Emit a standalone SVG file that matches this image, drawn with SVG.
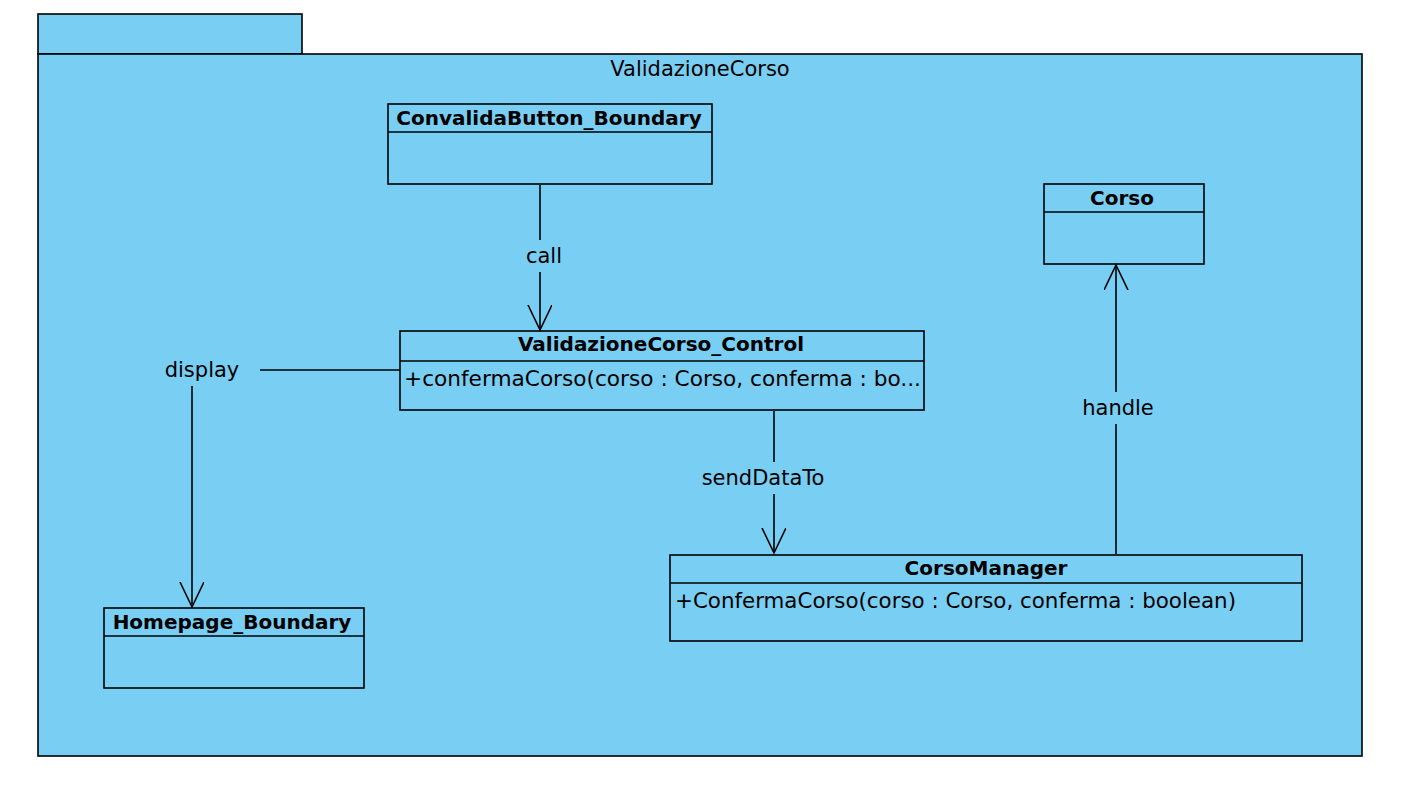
<svg xmlns="http://www.w3.org/2000/svg" width="1402" height="792" viewBox="0 0 1402 792">
<defs>
<marker id="open" viewBox="0 0 30 30" refX="25" refY="12" markerWidth="30" markerHeight="30" markerUnits="userSpaceOnUse" orient="auto">
<path d="M0,0 L25,12 L0,24" fill="none" stroke="#000" stroke-width="1.6"/>
</marker>
<style>
.box{fill:#79CEF3;stroke:#000;stroke-width:1.6}
.div{stroke:#000;stroke-width:1.6}
.name{font-family:"DejaVu Sans","Liberation Sans",sans-serif;font-weight:bold;font-size:20px;text-anchor:middle;fill:#000}
.op{font-family:"DejaVu Sans","Liberation Sans",sans-serif;font-size:21px;fill:#000}
.lbl{font-family:"DejaVu Sans","Liberation Sans",sans-serif;font-size:21px;text-anchor:middle;fill:#000}
.edge{fill:none;stroke:#000;stroke-width:1.6}
</style>
</defs>
<rect width="1402" height="792" fill="#fff"/>
<g id="package">
<rect class="box" x="38" y="14" width="264" height="40"/>
<rect class="box" x="38" y="54" width="1324" height="702"/>
<text class="lbl" x="700" y="76">ValidazioneCorso</text>
</g>
<g id="ConvalidaButton_Boundary">
<rect class="box" x="388" y="104" width="324" height="80"/>
<line class="div" x1="388" y1="132" x2="712" y2="132"/>
<text class="name" x="549" y="125">ConvalidaButton_Boundary</text>
</g>
<g id="Corso">
<rect class="box" x="1044" y="184" width="160" height="80"/>
<line class="div" x1="1044" y1="212" x2="1204" y2="212"/>
<text class="name" x="1122" y="205">Corso</text>
</g>
<g id="ValidazioneCorso_Control">
<rect class="box" x="400" y="331" width="524" height="79"/>
<line class="div" x1="400" y1="361" x2="924" y2="361"/>
<text class="name" x="661" y="351">ValidazioneCorso_Control</text>
<text class="op" x="404" y="386" textLength="517" lengthAdjust="spacingAndGlyphs">+confermaCorso(corso : Corso, conferma : bo...</text>
</g>
<g id="CorsoManager">
<rect class="box" x="670" y="555" width="632" height="86"/>
<line class="div" x1="670" y1="583" x2="1302" y2="583"/>
<text class="name" x="986" y="575">CorsoManager</text>
<text class="op" x="675" y="608" textLength="561" lengthAdjust="spacingAndGlyphs">+ConfermaCorso(corso : Corso, conferma : boolean)</text>
</g>
<g id="Homepage_Boundary">
<rect class="box" x="104" y="608" width="260" height="80"/>
<line class="div" x1="104" y1="636" x2="364" y2="636"/>
<text class="name" x="232" y="629">Homepage_Boundary</text>
</g>
<g id="connectors">
<path class="edge" d="M540,185 L540,240"/>
<path class="edge" d="M540,272 L540,330" marker-end="url(#open)"/>
<text class="lbl" x="544" y="263">call</text>
<path class="edge" d="M400,370 L260,370"/>
<path class="edge" d="M192,386 L192,607" marker-end="url(#open)"/>
<text class="lbl" x="202" y="377">display</text>
<path class="edge" d="M774,411 L774,462"/>
<path class="edge" d="M774,494 L774,553" marker-end="url(#open)"/>
<text class="lbl" x="763" y="485">sendDataTo</text>
<path class="edge" d="M1116,554 L1116,424"/>
<path class="edge" d="M1116,392 L1116,265" marker-end="url(#open)"/>
<text class="lbl" x="1118" y="415">handle</text>
</g>
</svg>
